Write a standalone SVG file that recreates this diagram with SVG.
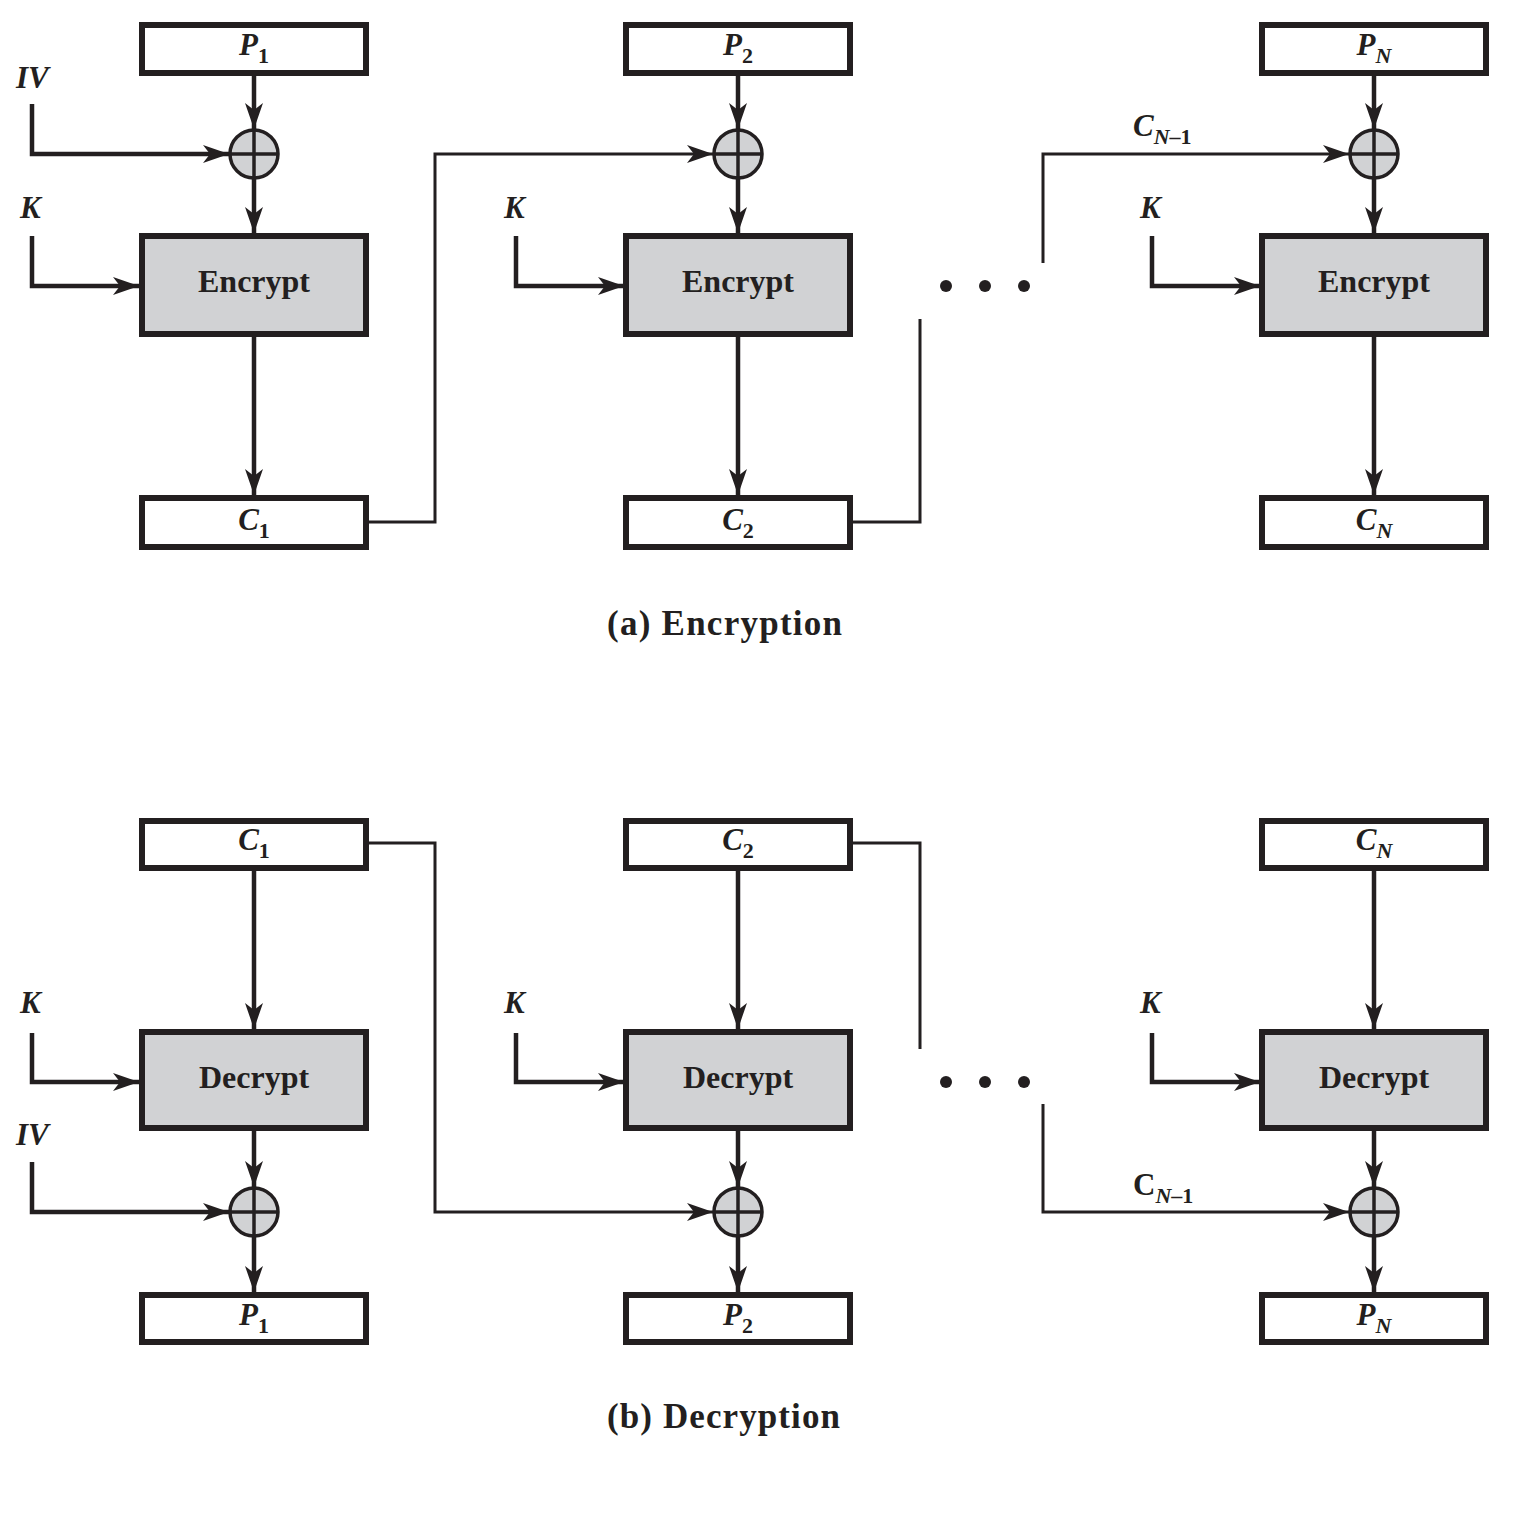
<svg xmlns="http://www.w3.org/2000/svg" width="1532" height="1522" viewBox="0 0 1532 1522">
<style>
.box{fill:#fff;stroke:#231f20;stroke-width:6}
.blk{fill:#d1d2d4;stroke:#231f20;stroke-width:6}
.xc{fill:#d1d2d4;stroke:#231f20;stroke-width:3.5}
.xl{stroke:#231f20;stroke-width:3.5}
.ar{fill:none;stroke:#231f20;stroke-width:4.5}
.cn{fill:none;stroke:#231f20;stroke-width:3}
.t{font-family:"Liberation Serif","Times New Roman",serif;fill:#231f20}
.lab{font-size:31px;font-style:italic;font-weight:bold}
.sub{font-size:22px;font-style:normal}
.subi{font-size:22px;font-style:italic}
.rom{font-style:normal}
.bt{font-size:32px;font-weight:bold}
.cap{font-size:35px;font-weight:bold}
.dot{fill:#231f20}
</style>
<defs>
<marker id="ah" viewBox="0 0 26 18" refX="26" refY="9" markerWidth="26" markerHeight="18" markerUnits="userSpaceOnUse" orient="auto">
<path d="M0,0 L26,9 L0,18 L7,9 Z" fill="#231f20"/>
</marker>
</defs>

<g id="connectors">
<path class="ar" d="M254,76 V129" marker-end="url(#ah)"/>
<path class="ar" d="M254,179 V233" marker-end="url(#ah)"/>
<path class="ar" d="M254,337 V495" marker-end="url(#ah)"/>
<path class="ar" d="M32,104 V154 H229" marker-end="url(#ah)"/>
<path class="ar" d="M32,236 V286 H139" marker-end="url(#ah)"/>
<path class="ar" d="M738,76 V129" marker-end="url(#ah)"/>
<path class="ar" d="M738,179 V233" marker-end="url(#ah)"/>
<path class="ar" d="M738,337 V495" marker-end="url(#ah)"/>
<path class="ar" d="M516,236 V286 H624" marker-end="url(#ah)"/>
<path class="ar" d="M1374,76 V129" marker-end="url(#ah)"/>
<path class="ar" d="M1374,179 V233" marker-end="url(#ah)"/>
<path class="ar" d="M1374,337 V495" marker-end="url(#ah)"/>
<path class="ar" d="M1152,236 V286 H1260" marker-end="url(#ah)"/>
<path class="cn" d="M367,522 H435 V154 H713" marker-end="url(#ah)"/>
<path class="cn" d="M851,522 H920 V319"/>
<path class="cn" d="M1043,263 V154 H1349" marker-end="url(#ah)"/>

<path class="ar" d="M254,871 V1029" marker-end="url(#ah)"/>
<path class="ar" d="M254,1131 V1187" marker-end="url(#ah)"/>
<path class="ar" d="M254,1237 V1292" marker-end="url(#ah)"/>
<path class="ar" d="M32,1033 V1082 H139" marker-end="url(#ah)"/>
<path class="ar" d="M32,1162 V1212 H229" marker-end="url(#ah)"/>
<path class="ar" d="M738,871 V1029" marker-end="url(#ah)"/>
<path class="ar" d="M738,1131 V1187" marker-end="url(#ah)"/>
<path class="ar" d="M738,1237 V1292" marker-end="url(#ah)"/>
<path class="ar" d="M516,1033 V1082 H624" marker-end="url(#ah)"/>
<path class="ar" d="M1374,871 V1029" marker-end="url(#ah)"/>
<path class="ar" d="M1374,1131 V1187" marker-end="url(#ah)"/>
<path class="ar" d="M1374,1237 V1292" marker-end="url(#ah)"/>
<path class="ar" d="M1152,1033 V1082 H1260" marker-end="url(#ah)"/>
<path class="cn" d="M367,843 H435 V1212 H713" marker-end="url(#ah)"/>
<path class="cn" d="M851,843 H920 V1049"/>
<path class="cn" d="M1043,1104 V1212 H1349" marker-end="url(#ah)"/>
</g>

<!-- ===== Encryption ===== -->
<g id="enc-P1"><rect class="box" x="142" y="25" width="224" height="48"/>
<text class="t lab" x="254" y="55" text-anchor="middle">P<tspan class="sub" dy="8">1</tspan></text></g>
<g id="enc-xor1"><circle class="xc" cx="254" cy="154" r="24"/><path class="xl" d="M254,130 V178 M230,154 H278"/></g>
<g id="enc-E1"><rect class="blk" x="142" y="236" width="224" height="98"/>
<text class="t bt" x="254" y="292" text-anchor="middle">Encrypt</text></g>
<g id="enc-C1"><rect class="box" x="142" y="498" width="224" height="49"/>
<text class="t lab" x="254" y="530" text-anchor="middle">C<tspan class="sub" dy="8">1</tspan></text></g>
<g id="enc-IV"><text class="t lab" x="16" y="88">IV</text></g>
<g id="enc-K1"><text class="t lab" x="20" y="218">K</text></g>

<g id="enc-P2"><rect class="box" x="626" y="25" width="224" height="48"/>
<text class="t lab" x="738" y="55" text-anchor="middle">P<tspan class="sub" dy="8">2</tspan></text></g>
<g id="enc-xor2"><circle class="xc" cx="738" cy="154" r="24"/><path class="xl" d="M738,130 V178 M714,154 H762"/></g>
<g id="enc-E2"><rect class="blk" x="626" y="236" width="224" height="98"/>
<text class="t bt" x="738" y="292" text-anchor="middle">Encrypt</text></g>
<g id="enc-C2"><rect class="box" x="626" y="498" width="224" height="49"/>
<text class="t lab" x="738" y="530" text-anchor="middle">C<tspan class="sub" dy="8">2</tspan></text></g>
<g id="enc-K2"><text class="t lab" x="504" y="218">K</text></g>

<g id="enc-dots"><circle class="dot" cx="946" cy="286" r="6"/><circle class="dot" cx="985" cy="286" r="6"/><circle class="dot" cx="1024" cy="286" r="6"/></g>
<g id="enc-CN1"><text class="t lab" x="1133" y="136">C<tspan class="subi" dy="8">N</tspan><tspan class="sub">–1</tspan></text></g>

<g id="enc-PN"><rect class="box" x="1262" y="25" width="224" height="48"/>
<text class="t lab" x="1374" y="55" text-anchor="middle">P<tspan class="subi" dy="8">N</tspan></text></g>
<g id="enc-xorN"><circle class="xc" cx="1374" cy="154" r="24"/><path class="xl" d="M1374,130 V178 M1350,154 H1398"/></g>
<g id="enc-EN"><rect class="blk" x="1262" y="236" width="224" height="98"/>
<text class="t bt" x="1374" y="292" text-anchor="middle">Encrypt</text></g>
<g id="enc-CN"><rect class="box" x="1262" y="498" width="224" height="49"/>
<text class="t lab" x="1374" y="530" text-anchor="middle">C<tspan class="subi" dy="8">N</tspan></text></g>
<g id="enc-K3"><text class="t lab" x="1140" y="218">K</text></g>

<text class="t cap" x="607" y="635" textLength="235" lengthAdjust="spacing">(a) Encryption</text>

<!-- ===== Decryption ===== -->
<g id="dec-C1"><rect class="box" x="142" y="821" width="224" height="47"/>
<text class="t lab" x="254" y="850" text-anchor="middle">C<tspan class="sub" dy="8">1</tspan></text></g>
<g id="dec-D1"><rect class="blk" x="142" y="1032" width="224" height="96"/>
<text class="t bt" x="254" y="1088" text-anchor="middle">Decrypt</text></g>
<g id="dec-xor1"><circle class="xc" cx="254" cy="1212" r="24"/><path class="xl" d="M254,1188 V1236 M230,1212 H278"/></g>
<g id="dec-P1"><rect class="box" x="142" y="1295" width="224" height="47"/>
<text class="t lab" x="254" y="1325" text-anchor="middle">P<tspan class="sub" dy="8">1</tspan></text></g>
<g id="dec-K1"><text class="t lab" x="20" y="1013">K</text></g>
<g id="dec-IV"><text class="t lab" x="16" y="1145">IV</text></g>

<g id="dec-C2"><rect class="box" x="626" y="821" width="224" height="47"/>
<text class="t lab" x="738" y="850" text-anchor="middle">C<tspan class="sub" dy="8">2</tspan></text></g>
<g id="dec-D2"><rect class="blk" x="626" y="1032" width="224" height="96"/>
<text class="t bt" x="738" y="1088" text-anchor="middle">Decrypt</text></g>
<g id="dec-xor2"><circle class="xc" cx="738" cy="1212" r="24"/><path class="xl" d="M738,1188 V1236 M714,1212 H762"/></g>
<g id="dec-P2"><rect class="box" x="626" y="1295" width="224" height="47"/>
<text class="t lab" x="738" y="1325" text-anchor="middle">P<tspan class="sub" dy="8">2</tspan></text></g>
<g id="dec-K2"><text class="t lab" x="504" y="1013">K</text></g>

<g id="dec-dots"><circle class="dot" cx="946" cy="1082" r="6"/><circle class="dot" cx="985" cy="1082" r="6"/><circle class="dot" cx="1024" cy="1082" r="6"/></g>
<g id="dec-CN1"><text class="t lab rom" x="1133" y="1195">C<tspan class="subi" dy="8">N</tspan><tspan class="sub">–1</tspan></text></g>

<g id="dec-CN"><rect class="box" x="1262" y="821" width="224" height="47"/>
<text class="t lab" x="1374" y="850" text-anchor="middle">C<tspan class="subi" dy="8">N</tspan></text></g>
<g id="dec-DN"><rect class="blk" x="1262" y="1032" width="224" height="96"/>
<text class="t bt" x="1374" y="1088" text-anchor="middle">Decrypt</text></g>
<g id="dec-xorN"><circle class="xc" cx="1374" cy="1212" r="24"/><path class="xl" d="M1374,1188 V1236 M1350,1212 H1398"/></g>
<g id="dec-PN"><rect class="box" x="1262" y="1295" width="224" height="47"/>
<text class="t lab" x="1374" y="1325" text-anchor="middle">P<tspan class="subi" dy="8">N</tspan></text></g>
<g id="dec-K3"><text class="t lab" x="1140" y="1013">K</text></g>

<text class="t cap" x="607" y="1428" textLength="233" lengthAdjust="spacing">(b) Decryption</text>
</svg>
